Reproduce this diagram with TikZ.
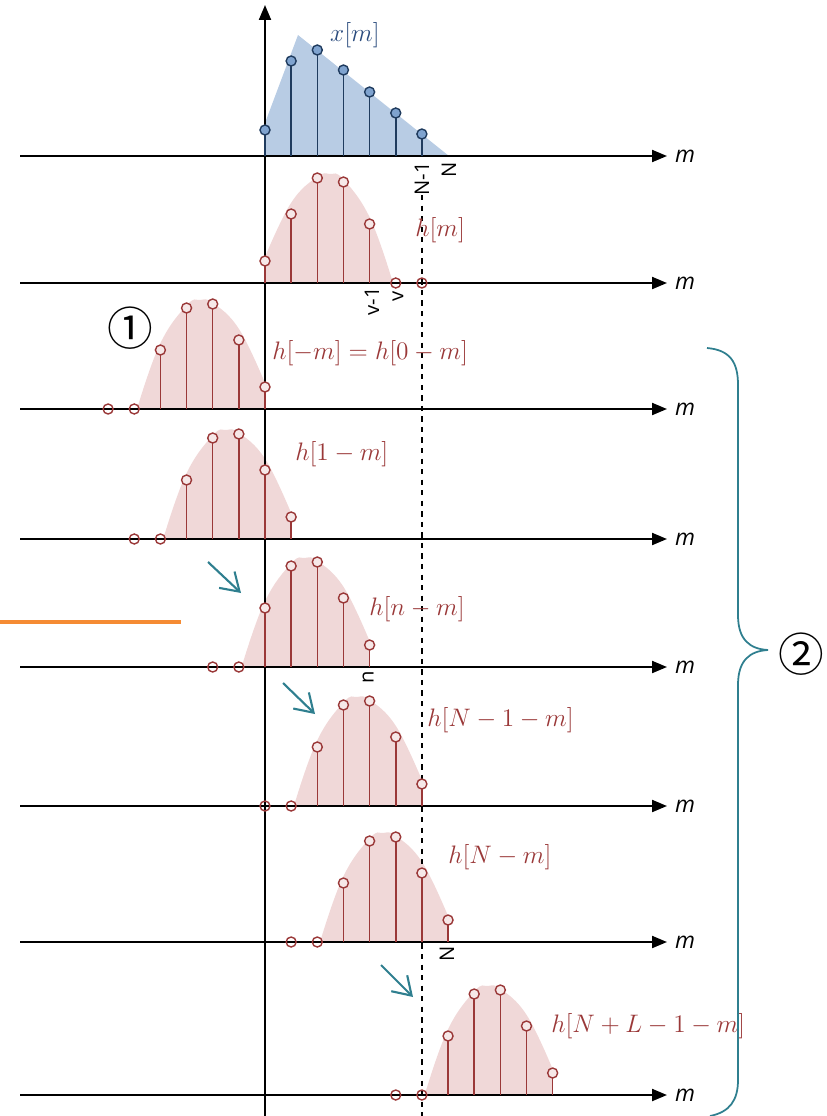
\documentclass[tikz,border=0pt]{standalone}
\usepackage{fontspec}
\setsansfont{Open Sans}
\newfontfamily\circfont{Noto Sans CJK SC}
\usepackage{xcolor}
\usetikzlibrary{arrows.meta, positioning, backgrounds}

\definecolor{xfill}{HTML}{B8CCE4}
\definecolor{xline}{HTML}{1F3B5E}
\definecolor{xdot}{HTML}{7FA3CF}
\definecolor{xtext}{HTML}{2B4C7E}
\definecolor{hfill}{HTML}{F0D8D8}
\definecolor{hline}{HTML}{9A3838}
\definecolor{bracecol}{HTML}{2F7F8F}
\definecolor{orangecol}{HTML}{F58B33}

\begin{document}
\begin{tikzpicture}[
    x=0.02cm, y=-0.02cm,
    axis/.style={line width=1.2pt, -{Triangle[length=3mm, width=2.4mm]}},
    refline/.style={dashed, line width=0.8pt},
    xstem/.style={xline, line width=0.9pt},
    xdotstyle/.style={draw=xline, fill=xdot, line width=0.8pt},
    hstem/.style={hline, line width=0.9pt},
    hdot/.style={draw=hline, fill=hfill!60!white, line width=0.8pt},
    hzero/.style={draw=hline, line width=0.8pt},
    hlabel/.style={text=hline, font=\fontsize{14.5}{16}\selectfont, anchor=west, inner sep=0pt},
    mlabel/.style={font=\fontsize{13}{15}\selectfont\sffamily\itshape, anchor=west, inner sep=0pt},
    ticklabel/.style={font=\fontsize{11.5}{13}\selectfont\sffamily, rotate=90, anchor=east, inner sep=0pt},
    shiftarrow/.style={bracecol, line width=1.2pt, -{Straight Barb[length=3.5mm, width=4.5mm]}},
    circnum/.style={font=\fontsize{26}{28}\selectfont\circfont},
  ]
  \useasboundingbox (0,0) rectangle (827,1116);

  % axes
  \draw[axis] (265,1116) -- (265,5);
  \foreach \base in {156,283,409,539,667,806,942,1095}
    \draw[axis] (20,\base) -- (667,\base) node[mlabel, right=4pt] (m\base) {m};
  \draw[refline] (422,195) -- (422,1116);

  % x[m]
  \begin{scope}[on background layer]
    \fill[xfill] (265,156) -- (265,123) -- (298,35) -- (449,156) -- cycle;
  \end{scope}
  \foreach \k/\v in {0/26,1/95,2/106,3/86,4/64,5/43,6/22} {
    \draw[xstem] (265+\k*26.15,156) -- (265+\k*26.15,156-\v);
    \filldraw[xdotstyle] (265+\k*26.15,156-\v) circle[radius=5];
  }

  % h[n-m] for the shifts n
  \foreach \n/\base/\dir in {0/283/1, 0/409/-1, 1/539/-1, 4/667/-1, 6/806/-1, 7/942/-1, 11/1095/-1} {
    \begin{scope}[shift={(265+\n*26.15,\base)}, xscale=\dir, yscale=-1]
      \begin{scope}[on background layer]
        \fill[hfill] (0,0) -- plot[smooth, tension=0.7] coordinates {(0,26) (26,80) (52,106) (65,109) (78,104) (105,65) (128,0)} -- cycle;
      \end{scope}
      \foreach \k/\v in {0/22,1/69,2/105,3/101,4/59} {
        \draw[hstem] (\k*26.15,0) -- (\k*26.15,\v);
        \filldraw[hdot] (\k*26.15,\v) circle[radius=5];
      }
      \foreach \k in {5,6}
        \draw[hzero] (\k*26.15,0) circle[radius=5];
    \end{scope}
  }

  % labels
  \node[text=xtext, font=\fontsize{14.5}{16}\selectfont] (xm) at (355,35) {$x[m]$};
  \node[hlabel] (h0) at (415,230) {$h[m]$};
  \node[hlabel] (h1) at (272,353) {$h[-m]=h[0-m]$};
  \node[hlabel] (h2) at (295,454) {$h[1-m]$};
  \node[hlabel] (h3) at (369,609) {$h[n-m]$};
  \node[hlabel] (h4) at (427,720) {$h[N-1-m]$};
  \node[hlabel] (h5) at (448,857) {$h[N-m]$};
  \node[hlabel] (h6) at (551,1026) {$h[N+L-1-m]$};

  \node[ticklabel] (tNm1) at (422,162) {N-1};
  \node[ticklabel] (tN) at (449,162) {N};
  \node[ticklabel] (tvm1) at (372,287) {v-1};
  \node[ticklabel] (tv) at (398,291) {v};
  \node[ticklabel] (tn) at (368,671) {n};
  \node[ticklabel] (tN2) at (447,946) {N};

  \node[circnum] (one) at (130,328) {①};
  \node[circnum] (two) at (801,654) {②};

  % shift arrows
  \draw[shiftarrow] (208,562) -- (241,593);
  \draw[shiftarrow] (283,683) -- (315,714);
  \draw[shiftarrow] (381,965) -- (413,997);

  % brace
  \draw[bracecol, line width=1pt] (707,348) .. controls (730,350) and (738,362) .. (738,385)
    -- (738,615) .. controls (738,640) and (750,649) .. (768,650)
    .. controls (750,651) and (738,660) .. (738,685)
    -- (738,1080) .. controls (738,1100) and (730,1112) .. (710,1116);

  \draw[orangecol, line width=2.8pt] (0,622) -- (181,622);

\end{tikzpicture}
\end{document}
